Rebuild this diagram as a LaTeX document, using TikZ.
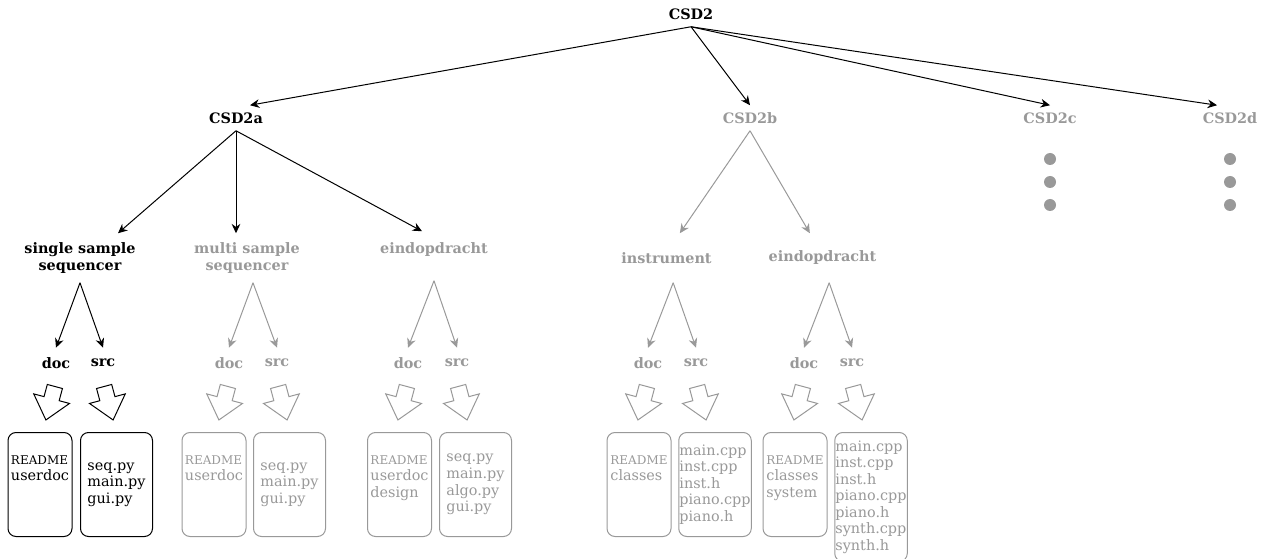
\documentclass[tikz,border=0pt]{standalone}
\usepackage{fontspec}
\setmainfont{DejaVu Serif}
\usetikzlibrary{arrows.meta,shapes.arrows}
\definecolor{faded}{RGB}{153,153,153}
\tikzset{
  dir/.style={font=\fontsize{10.8pt}{12.4pt}\selectfont\bfseries, inner sep=1pt},
  top/.style={dir, minimum height=18.75pt},
  sub/.style={dir, minimum height=36.75pt, align=center},
  leaf/.style={dir, minimum height=22.5pt},
  link/.style={line width=0.75pt, -{Stealth[length=7pt,width=6.5pt]}},
  bigarrow/.style={single arrow, draw, fill=white, line width=0.75pt, inner sep=5.5pt,
    minimum height=26pt, single arrow head extend=8pt, single arrow tip angle=80, anchor=tail},
  files/.style={draw, rounded corners=6pt, line width=0.75pt, anchor=north,
    font=\fontsize{10.8pt}{12.4pt}\selectfont,
    minimum height=78pt, inner xsep=0.5pt, inner ysep=6pt, align=left},
  docs/.style={files, minimum width=48pt},
  srcs/.style={files, minimum width=54pt}
}
\begin{document}
\begin{tikzpicture}[x=0.75pt,y=-0.75pt]
  \useasboundingbox (0,0) rectangle (1266,559);

  % top levels
  \node[top] (csd2) at (691,14) {CSD2};
  \node[top] (csd2a) at (236,118) {CSD2a};
  \node[top,faded] (csd2b) at (750,118) {CSD2b};
  \node[top,faded] (csd2c) at (1050,118) {CSD2c};
  \node[top,faded] (csd2d) at (1230,118) {CSD2d};

  \draw[link] (csd2.south) -- ([xshift=10.5pt]csd2a.north);
  \draw[link] (csd2.south) -- (csd2b.north);
  \draw[link] (csd2.south) -- (csd2c.north);
  \draw[link] (csd2.south) -- ([xshift=-9.75pt]csd2d.north);

  \foreach \y in {159,182,205} {
    \fill[faded] (1050,\y) circle[radius=4.5pt];
    \fill[faded] (1230,\y) circle[radius=4.5pt];
  }

  % assignments
  \node[sub] (single) at (80,258) {single sample\\sequencer};
  \node[sub,faded] (multi) at (247,258) {multi sample\\sequencer};
  \node[sub,faded] (eindA) at (434,256) {eindopdracht\\~};
  \node[sub,faded] (instr) at (666.5,258) {instrument};
  \node[sub,faded] (eindB) at (822.5,258) {eindopdracht};

  \draw[link] (csd2a.south) -- ([xshift=28.5pt]single.north);
  \draw[link] (csd2a.south) -- ([xshift=-8.25pt]multi.north);
  \draw[link] (csd2a.south) -- ([xshift=-9pt]eindA.north);
  \draw[link,faded] (csd2b.south) -- ([xshift=10pt]instr.north);
  \draw[link,faded] (csd2b.south) -- ([xshift=-9.5pt]eindB.north);

  % doc and src folders
  \node[leaf] (sdoc) at (56,363) {doc};
  \node[leaf] (ssrc) at (103,363) {src};
  \node[leaf,faded] (mdoc) at (229,363) {doc};
  \node[leaf,faded] (msrc) at (277,363) {src};
  \node[leaf,faded] (adoc) at (408,363) {doc};
  \node[leaf,faded] (asrc) at (457,363) {src};
  \node[leaf,faded] (idoc) at (648,363) {doc};
  \node[leaf,faded] (isrc) at (696,363) {src};
  \node[leaf,faded] (bdoc) at (804,363) {doc};
  \node[leaf,faded] (bsrc) at (852,363) {src};

  \draw[link] (single.south) -- (sdoc.north);
  \draw[link] (single.south) -- (ssrc.north);
  \draw[link,faded] ([xshift=4.5pt]multi.south) -- (mdoc.north);
  \draw[link,faded] ([xshift=4.5pt]multi.south) -- (msrc.north);
  \draw[link,faded] (eindA.south) -- (adoc.north);
  \draw[link,faded] (eindA.south) -- (asrc.north);
  \draw[link,faded] ([xshift=5pt]instr.south) -- (idoc.north);
  \draw[link,faded] ([xshift=5pt]instr.south) -- (isrc.north);
  \draw[link,faded] ([xshift=5pt]eindB.south) -- (bdoc.north);
  \draw[link,faded] ([xshift=5pt]eindB.south) -- (bsrc.north);

  % block arrows
  \node[bigarrow,rotate=-105] (sdocin) at (55,386) {};
  \node[bigarrow,rotate=-75] (ssrcin) at (104,386) {};
  \node[bigarrow,rotate=-105,draw=faded] (mdocin) at (228,386) {};
  \node[bigarrow,rotate=-75,draw=faded] (msrcin) at (278,386) {};
  \node[bigarrow,rotate=-105,draw=faded] (adocin) at (407,386) {};
  \node[bigarrow,rotate=-75,draw=faded] (asrcin) at (458,386) {};
  \node[bigarrow,rotate=-105,draw=faded] (idocin) at (647,386) {};
  \node[bigarrow,rotate=-75,draw=faded] (isrcin) at (697,386) {};
  \node[bigarrow,rotate=-105,draw=faded] (bdocin) at (803,386) {};
  \node[bigarrow,rotate=-75,draw=faded] (bsrcin) at (853,386) {};

  % file lists
  \node[docs] (sdocfiles) at (40,432) {{\small README}\\userdoc\\~\\~};
  \node[srcs] (ssrcfiles) at (116.5,432) {seq.py\\main.py\\gui.py};
  \node[docs,faded] (mdocfiles) at (214,432) {{\small README}\\userdoc\\~\\~};
  \node[srcs,faded] (msrcfiles) at (289.5,432) {seq.py\\main.py\\gui.py};
  \node[docs,faded] (adocfiles) at (399.5,432) {{\small README}\\userdoc\\design\\~};
  \node[srcs,faded] (asrcfiles) at (475.5,432) {seq.py\\main.py\\algo.py\\gui.py};
  \node[docs,faded] (idocfiles) at (639,432) {{\small README}\\classes\\~\\~};
  \node[srcs,faded] (isrcfiles) at (715,432) {main.cpp\\inst.cpp\\inst.h\\piano.cpp\\piano.h};
  \node[docs,faded] (bdocfiles) at (795,432) {{\small README}\\classes\\system\\~};
  \node[srcs,faded] (bsrcfiles) at (871,432) {main.cpp\\inst.cpp\\inst.h\\piano.cpp\\piano.h\\synth.cpp\\synth.h};
\end{tikzpicture}
\end{document}
